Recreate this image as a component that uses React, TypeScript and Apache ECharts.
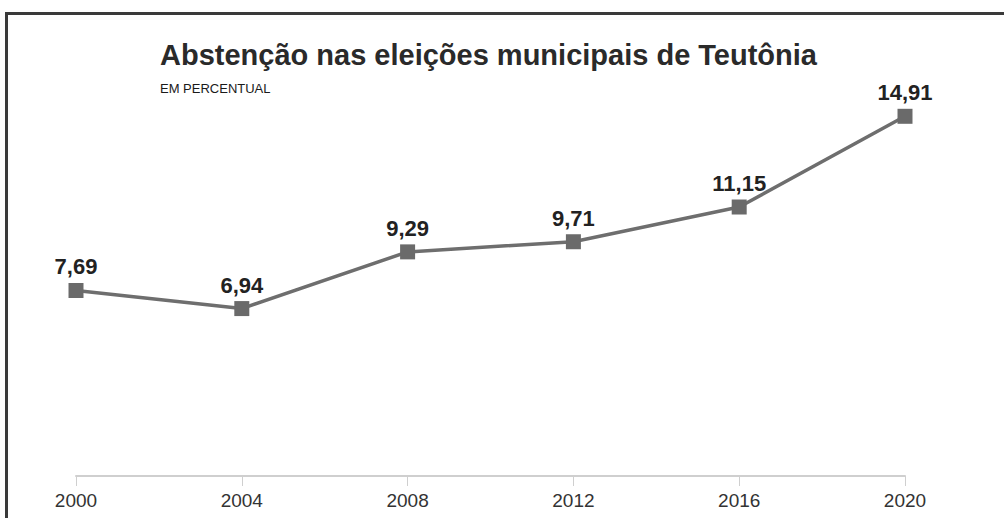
import React, { useEffect, useRef } from "react";
import * as echarts from "echarts";

const years = ["2000", "2004", "2008", "2012", "2016", "2020"];
const abstencao = [7.69, 6.94, 9.29, 9.71, 11.15, 14.91];
const titleText = "Abstenção nas eleições municipais de Teutônia";
const subtitleText = "EM PERCENTUAL";

const fmt = (v: number) => v.toFixed(2).replace(".", ",");

export default function App() {
  const ref = useRef<HTMLDivElement>(null);
  useEffect(() => {
    document.body.style.margin = "0";
    const chart = echarts.init(ref.current!, undefined, { renderer: "svg" });
    chart.setOption({
      animation: false,
      backgroundColor: "#ffffff",
      title: [
        {
          text: titleText,
          left: 155,
          top: 35,
          textStyle: {
            fontFamily: "'Liberation Sans', Arial, sans-serif",
            fontWeight: "bold",
            fontSize: 29,
            color: "#2a2a2a",
          },
        },
        {
          text: subtitleText,
          left: 155,
          top: 77,
          textStyle: {
            fontFamily: "'Liberation Sans', Arial, sans-serif",
            fontWeight: "normal",
            fontSize: 13,
            color: "#1a1a1a",
          },
        },
      ],
      graphic: [
        { type: "rect", shape: { x: 5, y: 12, width: 999, height: 3 }, style: { fill: "#3a3a3a" } },
        { type: "rect", shape: { x: 5, y: 12, width: 3, height: 506 }, style: { fill: "#3a3a3a" } },
      ],
      grid: { left: 76, right: 99, top: 90, bottom: 42 },
      xAxis: {
        type: "category",
        data: years,
        boundaryGap: false,
        axisLine: { lineStyle: { color: "#cfcfcf", width: 2 } },
        axisTick: { show: true, length: 10, lineStyle: { color: "#cfcfcf", width: 1 } },
        axisLabel: {
          margin: 15,
          fontFamily: "'Liberation Sans', Arial, sans-serif",
          fontSize: 19,
          color: "#333",
        },
      },
      yAxis: {
        type: "value",
        min: 0,
        max: 16,
        show: false,
        splitLine: { show: false },
      },
      series: [
        {
          type: "line",
          data: abstencao,
          symbol: "rect",
          symbolSize: 15,
          itemStyle: { color: "#6a6a6a" },
          lineStyle: { color: "#6e6e6e", width: 3.5 },
          label: {
            show: true,
            position: "top",
            distance: 5,
            formatter: (p: any) => fmt(p.value),
            fontFamily: "'Liberation Sans', Arial, sans-serif",
            fontWeight: "bold",
            fontSize: 22,
            color: "#222",
          },
        },
      ],
    });
    return () => chart.dispose();
  }, []);
  return <div ref={ref} style={{ width: 1004, height: 518 }} />;
}
